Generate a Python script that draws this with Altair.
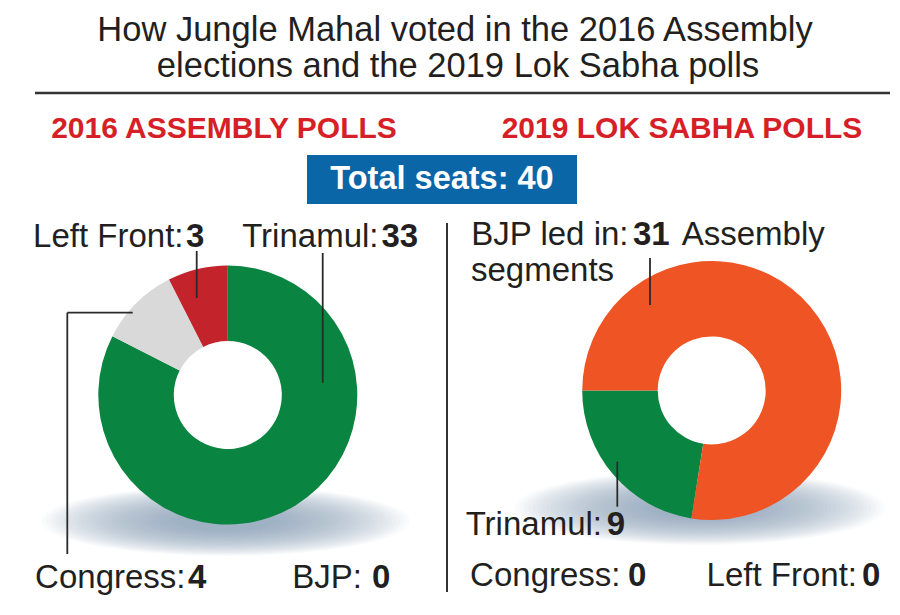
import math
import altair as alt
import pandas as pd

# ---------------- data ----------------
parties = ["Trinamul", "Congress", "Left Front", "BJP"]
seats_2016 = [33, 4, 3, 0]
seats_2019 = [9, 0, 0, 31]
order_2016 = [0, 1, 2, 3]
order_2019 = [0, 2, 3, 1]
total_seats = 40
title_lines = ["How Jungle Mahal voted in the 2016 Assembly",
               "elections and the 2019 Lok Sabha polls"]
headers = ["2016 ASSEMBLY POLLS", "2019 LOK SABHA POLLS"]
party_colors = ["#0a8441", "#d9d9d9", "#c3242b", "#ee5424"]

# ---------------- style ----------------
OFF = 8
FONT = "Liberation Sans, Arial, Helvetica, sans-serif"
TXT = "#231f20"
LINE = "#2a2a2a"


def px(v):
    return v - OFF


dummy = pd.DataFrame({"d": [0]})
df16 = pd.DataFrame({"party": parties, "seats": seats_2016, "order": order_2016})
df19 = pd.DataFrame({"party": parties, "seats": seats_2019, "order": order_2019})

color = alt.Color("party:N", scale=alt.Scale(domain=parties, range=party_colors), legend=None)


def donut(df, cx, cy, start_deg):
    s = math.radians(start_deg)
    return alt.Chart(df).mark_arc(radius=129.5, innerRadius=54).encode(
        theta=alt.Theta("seats:Q", stack=True, scale=alt.Scale(range=[s, s + 2 * math.pi])),
        color=color,
        order=alt.Order("order:Q"),
        x=alt.value(px(cx)),
        y=alt.value(px(cy)),
    )


def text(t, x, y, size, weight="normal", align="left", col=TXT):
    return alt.Chart(dummy).mark_text(
        text=t, align=align, baseline="alphabetic", fontSize=size,
        fontWeight=weight, font=FONT, color=col,
    ).encode(x=alt.value(px(x)), y=alt.value(px(y)))


def rule(x1, y1, x2, y2, w=1.8, col=LINE):
    return alt.Chart(dummy).mark_rule(strokeWidth=w, color=col).encode(
        x=alt.value(px(x1)), y=alt.value(px(y1)),
        x2=alt.value(px(x2)), y2=alt.value(px(y2)),
    )


def shadow(cx, cy, w, h):
    ratio = h / w
    path = f"M-1,0A1,{ratio:.4f},0,1,0,1,0A1,{ratio:.4f},0,1,0,-1,0Z"
    out = []
    n = 32
    for i in range(n):
        k = 1.0 - i * 0.024
        out.append(
            alt.Chart(dummy).mark_point(
                shape=path, filled=True, fill="#8598ae", opacity=0.042,
                size=(w * k) ** 2, strokeWidth=0,
            ).encode(x=alt.value(px(cx)), y=alt.value(px(cy)))
        )
    return out


layers = []
# shadows
layers += shadow(225.5, 521, 368, 70)
layers += shadow(700, 508, 370, 74)
# donuts
layers.append(donut(df16, 227.8, 395, 0))
layers.append(donut(df19, 711.7, 390.5, 270 - 360 * seats_2019[0] / total_seats))

# title
layers.append(text(title_lines[0], 455, 41, 34.5, align="center"))
layers.append(text(title_lines[1], 458, 77, 34.5, align="center"))
layers.append(rule(35, 93, 890, 93, w=2.5, col="#333333"))

# headers
layers.append(text(headers[0], 224, 138, 30, weight="bold", align="center", col="#d71f27"))
layers.append(text(headers[1], 682, 138, 30, weight="bold", align="center", col="#d71f27"))

# total seats box
layers.append(
    alt.Chart(dummy).mark_rect(color="#0b66a8").encode(
        x=alt.value(px(307)), x2=alt.value(px(577)),
        y=alt.value(px(155)), y2=alt.value(px(204)),
    )
)
layers.append(text(f"Total seats: {total_seats}", 442, 189, 32.5, weight="bold",
                   align="center", col="white"))

# divider
layers.append(rule(447, 223, 447, 592, w=2, col="#333333"))

LS = 33
# 2016 labels
layers.append(text(f"{parties[2]}:", 183.5, 246.5, LS, align="right"))
layers.append(text(str(seats_2016[2]), 186, 246.5, LS, weight="bold"))
layers.append(text(f"{parties[0]}:", 378.5, 246.5, LS, align="right"))
layers.append(text(str(seats_2016[0]), 381.5, 246.5, LS, weight="bold"))
layers.append(text(f"{parties[1]}:", 185.5, 587.5, LS, align="right"))
layers.append(text(str(seats_2016[1]), 188, 587.5, LS, weight="bold"))
layers.append(text(f"{parties[3]}:", 362, 587.5, LS, align="right"))
layers.append(text(str(seats_2016[3]), 372, 587.5, LS, weight="bold"))

# 2019 labels
layers.append(text(f"{parties[3]} led in:", 628.5, 245, LS, align="right"))
layers.append(text(str(seats_2019[3]), 633, 245, LS, weight="bold"))
layers.append(text("Assembly", 681.7, 245, LS))
layers.append(text("segments", 471, 281, LS))
layers.append(text(f"{parties[0]}:", 602, 535, LS, align="right"))
layers.append(text(str(seats_2019[0]), 606.7, 535, LS, weight="bold"))
layers.append(text(f"{parties[1]}:", 620.5, 586, LS, align="right"))
layers.append(text(str(seats_2019[1]), 628, 586, LS, weight="bold"))
layers.append(text(f"{parties[2]}:", 857, 586, LS, align="right"))
layers.append(text(str(seats_2019[2]), 862, 586, LS, weight="bold"))

# leader lines
layers.append(rule(196.7, 251, 196.7, 298))
layers.append(rule(322.7, 253, 322.7, 382.7))
layers.append(rule(132.7, 312.7, 67.3, 312.7))
layers.append(rule(67.3, 312.7, 67.3, 554))
layers.append(rule(650, 258, 650, 305))
layers.append(rule(617.3, 461.7, 617.3, 506.7))

chart = alt.layer(*layers).properties(
    width=884, height=599, padding=0, autosize="none", background="white"
).resolve_scale(theta="independent").configure_view(stroke=None)

chart.save("out.html", embed_options={"renderer": "svg", "actions": False})
